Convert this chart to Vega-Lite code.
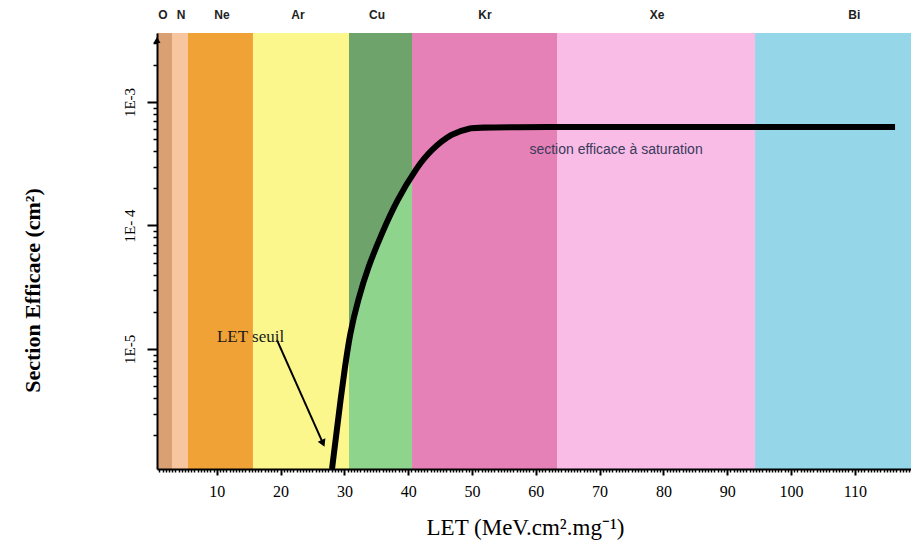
{
  "$schema": "https://vega.github.io/schema/vega-lite/v6.json",
  "width": 754,
  "height": 436,
  "autosize": "none",
  "padding": {"left": 157, "top": 33, "right": 0, "bottom": 83},
  "background": "white",
  "config": {"view": {"stroke": null}},
  "datasets": {
    "bands": [
      {"ion": "O", "start": 0.63, "end": 2.98, "labelpos": 1.57},
      {"ion": "N", "start": 2.98, "end": 5.49, "labelpos": 4.39},
      {"ion": "Ne", "start": 5.49, "end": 15.67, "labelpos": 10.82},
      {"ion": "Ar", "start": 15.67, "end": 30.72, "labelpos": 22.73},
      {"ion": "Cu", "start": 30.72, "end": 40.6, "labelpos": 35.11},
      {"ion": "Kr", "start": 40.6, "end": 63.32, "labelpos": 52.04},
      {"ion": "Xe", "start": 63.32, "end": 94.36, "labelpos": 79.0},
      {"ion": "Bi", "start": 94.36, "end": 118.8, "labelpos": 109.9}
    ],
    "curve": [
      {"let": 28.06, "sigma": 1.066e-6},
      {"let": 28.76, "sigma": 2.09e-6},
      {"let": 29.39, "sigma": 3.86e-6},
      {"let": 30.09, "sigma": 7.15e-6},
      {"let": 30.88, "sigma": 1.35e-5},
      {"let": 32.13, "sigma": 2.49e-5},
      {"let": 33.7, "sigma": 4.61e-5},
      {"let": 35.89, "sigma": 8.69e-5},
      {"let": 38.24, "sigma": 1.61e-4},
      {"let": 41.38, "sigma": 2.98e-4},
      {"let": 43.57, "sigma": 4.09e-4},
      {"let": 46.87, "sigma": 5.61e-4},
      {"let": 49.69, "sigma": 6.15e-4},
      {"let": 51.57, "sigma": 6.28e-4},
      {"let": 116.3, "sigma": 6.28e-4}
    ],
    "cuUpper": [
      {"let": 30.72, "sigma": 1.18e-5},
      {"let": 30.88, "sigma": 1.35e-5},
      {"let": 32.13, "sigma": 2.49e-5},
      {"let": 33.7, "sigma": 4.61e-5},
      {"let": 35.89, "sigma": 8.69e-5},
      {"let": 38.24, "sigma": 1.61e-4},
      {"let": 40.6, "sigma": 2.56e-4}
    ],
    "arrow": [
      {"x1": 19.44, "y1": 1.18e-5, "x2": 26.65, "y2": 1.72e-6}
    ],
    "seuil": [
      {"text": "LET seuil", "let": 10.03, "sigma": 1.25e-5}
    ],
    "saturation": [
      {"text": "section efficace à saturation", "let": 72.57, "sigma": 4.08e-4}
    ],
    "axisTop": [
      {"let": 0.63, "sigma": 3.18e-3}
    ]
  },
  "layer": [
    {
      "data": {"name": "curve"},
      "mark": {"type": "line", "color": "black", "strokeWidth": 6, "interpolate": "basis", "strokeCap": "butt", "opacity": 0},
      "encoding": {
        "x": {
          "field": "let", "type": "quantitative",
          "scale": {"domain": [0.63, 118.8], "nice": false, "zero": false},
          "axis": {
            "title": "LET (MeV.cm².mg⁻¹)",
            "zindex": 1,
            "grid": false,
            "tickCount": 240,
            "labelExpr": "datum.value % 10 == 0 ? format(datum.value, 'd') : ''",
            "labelOverlap": false,
            "labelBound": false,
            "labelFlush": false,
            "domainColor": "black",
            "domainWidth": 2,
            "tickColor": "black",
            "tickWidth": {"condition": {"test": "datum.value % 10 == 0", "value": 2}, "value": 1.5},
            "tickSize": {"condition": {"test": "datum.value % 10 == 0", "value": 6}, "value": 3},
            "labelFont": "Liberation Serif",
            "labelFontSize": 16,
            "labelColor": "black",
            "labelPadding": 8,
            "titleFont": "Liberation Serif",
            "titleFontSize": 23,
            "titleFontWeight": "normal",
            "titleColor": "black",
            "titleX": 368,
            "titleY": 58,
            "titleBaseline": "middle",
            "titleAlign": "center"
          }
        },
        "y": {
          "field": "sigma", "type": "quantitative",
          "scale": {"type": "log", "domain": [1.066e-6, 3.62e-3], "nice": false},
          "axis": {
            "title": "Section Efficace (cm²)",
            "zindex": 1,
            "grid": false,
            "values": [2e-6, 3e-6, 4e-6, 5e-6, 6e-6, 7e-6, 8e-6, 9e-6, 1e-5, 2e-5, 3e-5, 4e-5, 5e-5, 6e-5, 7e-5, 8e-5, 9e-5, 1e-4, 2e-4, 3e-4, 4e-4, 5e-4, 6e-4, 7e-4, 8e-4, 9e-4, 1e-3, 2e-3, 3e-3],
            "labelExpr": "datum.value == 0.001 ? '1E-3' : datum.value == 0.0001 ? '1E- 4' : datum.value == 0.00001 ? '1E-5' : ''",
            "labelOverlap": false,
            "labelBound": false,
            "labelFlush": false,
            "labelAngle": -90,
            "labelAlign": "center",
            "labelBaseline": "bottom",
            "labelFont": "Liberation Serif",
            "labelFontSize": 15,
            "labelColor": "black",
            "labelPadding": 10,
            "domainColor": "black",
            "domainWidth": 2,
            "tickColor": "black",
            "tickWidth": {"condition": {"test": "datum.value == 0.001 || datum.value == 0.0001 || datum.value == 0.00001", "value": 2}, "value": 1.5},
            "tickSize": {"condition": {"test": "datum.value == 0.001 || datum.value == 0.0001 || datum.value == 0.00001", "value": 10}, "value": 4},
            "titleFont": "Liberation Serif",
            "titleFontSize": 22,
            "titleFontWeight": "bold",
            "titleColor": "black",
            "titleAngle": -90,
            "titleX": -125,
            "titleY": 257,
            "titleBaseline": "middle",
            "titleAlign": "center"
          }
        }
      }
    },
    {
      "data": {"name": "bands"},
      "mark": {"type": "rect"},
      "encoding": {
        "x": {"field": "start", "type": "quantitative", "scale": {"domain": [0.63, 118.8], "nice": false, "zero": false}},
        "x2": {"field": "end"},
        "color": {
          "field": "ion", "type": "nominal",
          "scale": {
            "domain": ["O", "N", "Ne", "Ar", "Cu", "Kr", "Xe", "Bi"],
            "range": ["#d9a173", "#f8c69e", "#f1a236", "#fbf78c", "#8fd48c", "#e581b6", "#f8bce7", "#95d6e8"]
          },
          "legend": null
        }
      }
    },
    {
      "data": {"name": "cuUpper"},
      "mark": {"type": "area", "color": "#6ea46c", "interpolate": "basis", "opacity": 1},
      "encoding": {
        "x": {"field": "let", "type": "quantitative", "scale": {"domain": [0.63, 118.8], "nice": false, "zero": false}},
        "y": {"field": "sigma", "type": "quantitative", "scale": {"type": "log", "domain": [1.066e-6, 3.62e-3], "nice": false}},
        "y2": {"datum": 0.00362}
      }
    },
    {
      "data": {"name": "bands"},
      "mark": {"type": "text", "font": "Liberation Sans", "fontWeight": "bold", "fontSize": 12, "color": "#222222", "baseline": "middle", "align": "center"},
      "encoding": {
        "x": {"field": "labelpos", "type": "quantitative", "scale": {"domain": [0.63, 118.8], "nice": false, "zero": false}},
        "y": {"datum": 0.00506, "type": "quantitative", "scale": {"type": "log", "domain": [1.066e-6, 3.62e-3], "nice": false}},
        "text": {"field": "ion"}
      }
    },
    {
      "data": {"name": "curve"},
      "mark": {"type": "line", "color": "black", "strokeWidth": 6, "interpolate": "basis", "strokeCap": "butt"},
      "encoding": {
        "x": {"field": "let", "type": "quantitative", "scale": {"domain": [0.63, 118.8], "nice": false, "zero": false}},
        "y": {"field": "sigma", "type": "quantitative", "scale": {"type": "log", "domain": [1.066e-6, 3.62e-3], "nice": false}}
      }
    },
    {
      "data": {"name": "arrow"},
      "mark": {"type": "rule", "color": "black", "strokeWidth": 2},
      "encoding": {
        "x": {"field": "x1", "type": "quantitative", "scale": {"domain": [0.63, 118.8], "nice": false, "zero": false}},
        "y": {"field": "y1", "type": "quantitative", "scale": {"type": "log", "domain": [1.066e-6, 3.62e-3], "nice": false}},
        "x2": {"field": "x2"},
        "y2": {"field": "y2"}
      }
    },
    {
      "data": {"name": "arrow"},
      "mark": {"type": "point", "shape": "triangle-up", "filled": true, "color": "black", "opacity": 1, "size": 70, "angle": 156},
      "encoding": {
        "x": {"field": "x2", "type": "quantitative", "scale": {"domain": [0.63, 118.8], "nice": false, "zero": false}},
        "y": {"field": "y2", "type": "quantitative", "scale": {"type": "log", "domain": [1.066e-6, 3.62e-3], "nice": false}}
      }
    },
    {
      "data": {"name": "axisTop"},
      "mark": {"type": "point", "shape": "triangle-up", "filled": true, "color": "black", "opacity": 1, "size": 50},
      "encoding": {
        "x": {"field": "let", "type": "quantitative", "scale": {"domain": [0.63, 118.8], "nice": false, "zero": false}},
        "y": {"field": "sigma", "type": "quantitative", "scale": {"type": "log", "domain": [1.066e-6, 3.62e-3], "nice": false}}
      }
    },
    {
      "data": {"name": "seuil"},
      "mark": {"type": "text", "font": "Liberation Serif", "fontSize": 17, "color": "#1a1a1a", "align": "left", "baseline": "middle"},
      "encoding": {
        "x": {"field": "let", "type": "quantitative", "scale": {"domain": [0.63, 118.8], "nice": false, "zero": false}},
        "y": {"field": "sigma", "type": "quantitative", "scale": {"type": "log", "domain": [1.066e-6, 3.62e-3], "nice": false}},
        "text": {"field": "text"}
      }
    },
    {
      "data": {"name": "saturation"},
      "mark": {"type": "text", "font": "Liberation Sans", "fontSize": 14, "color": "#3a3a5a", "align": "center", "baseline": "middle"},
      "encoding": {
        "x": {"field": "let", "type": "quantitative", "scale": {"domain": [0.63, 118.8], "nice": false, "zero": false}},
        "y": {"field": "sigma", "type": "quantitative", "scale": {"type": "log", "domain": [1.066e-6, 3.62e-3], "nice": false}},
        "text": {"field": "text"}
      }
    }
  ]
}
